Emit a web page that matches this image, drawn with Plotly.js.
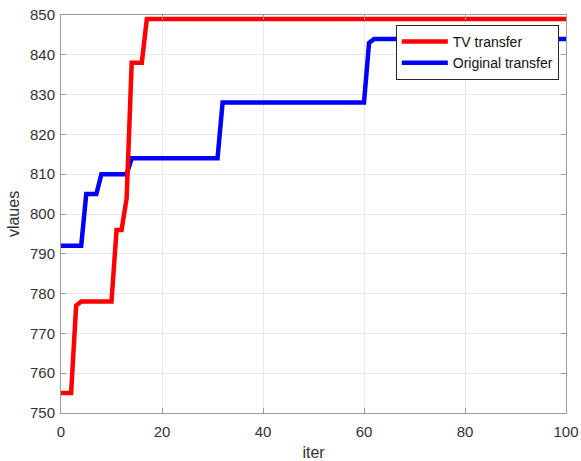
<!DOCTYPE html>
<html>
<head>
<meta charset="utf-8">
<script src="https://cdn.plot.ly/plotly-3.0.1.min.js"></script>
<style>html,body{margin:0;padding:0;background:#fff;}#chart{width:581px;height:461px;}</style>
</head>
<body>
<div id="chart"></div>
<script>
// Data (breakpoints of the step-like curves)
const iterTV = [0, 2, 3, 4, 10, 11, 12, 13, 14, 16, 17, 100];
const valuesTV = [755, 755, 777, 778, 778, 796, 796, 804, 838, 838, 849, 849];

const iterOrig = [0, 4, 5, 7, 8, 13, 14, 31, 32, 60, 61, 62, 100];
const valuesOrig = [792, 792, 805, 805, 810, 810, 814, 814, 828, 828, 843, 844, 844];

const seriesNames = ["TV transfer", "Original transfer"];
const xTicks = [0, 20, 40, 60, 80, 100];
const yTicks = [750, 760, 770, 780, 790, 800, 810, 820, 830, 840, 850];

const font = "Liberation Sans, Arial, Helvetica, sans-serif";
const frame = "#9a9a9a";

const traces = [
  {x: iterOrig, y: valuesOrig, name: seriesNames[1], mode: "lines",
   line: {color: "#0000ff", width: 4.5}},
  {x: iterTV, y: valuesTV, name: seriesNames[0], mode: "lines",
   line: {color: "#ff0000", width: 4.5}}
];

const axisCommon = {
  showline: true, linecolor: frame, linewidth: 1, mirror: "ticks",
  ticks: "inside", ticklen: 5, tickcolor: frame, tickwidth: 1,
  showgrid: true, gridcolor: "#e8e8e8", gridwidth: 1,
  zeroline: false, tickfont: {family: font, size: 15, color: "#333333"}
};

const layout = {
  width: 581, height: 461,
  margin: {l: 61, r: 15, t: 15, b: 48},
  paper_bgcolor: "#ffffff", plot_bgcolor: "#ffffff",
  showlegend: true,
  legend: {
    x: 0.663, y: 0.975, xanchor: "left", yanchor: "top",
    bgcolor: "#ffffff", bordercolor: "#262626", borderwidth: 1,
    traceorder: "reversed", itemwidth: 46,
    font: {family: font, size: 14, color: "#111111"},
    tracegroupgap: 0
  },
  xaxis: Object.assign({}, axisCommon, {
    range: [0, 100], tickvals: xTicks, ticktext: xTicks.map(String),
    ticklabelstandoff: 5,
    title: {text: "iter", font: {family: font, size: 16, color: "#333333"}, standoff: 8}
  }),
  yaxis: Object.assign({}, axisCommon, {
    range: [750, 850], tickvals: yTicks, ticktext: yTicks.map(String),
    ticklabelstandoff: 2,
    title: {text: "vlaues", font: {family: font, size: 16, color: "#333333"}, standoff: 6}
  })
};

Plotly.newPlot("chart", traces, layout, {displayModeBar: false, staticPlot: true});
</script>
</body>
</html>
